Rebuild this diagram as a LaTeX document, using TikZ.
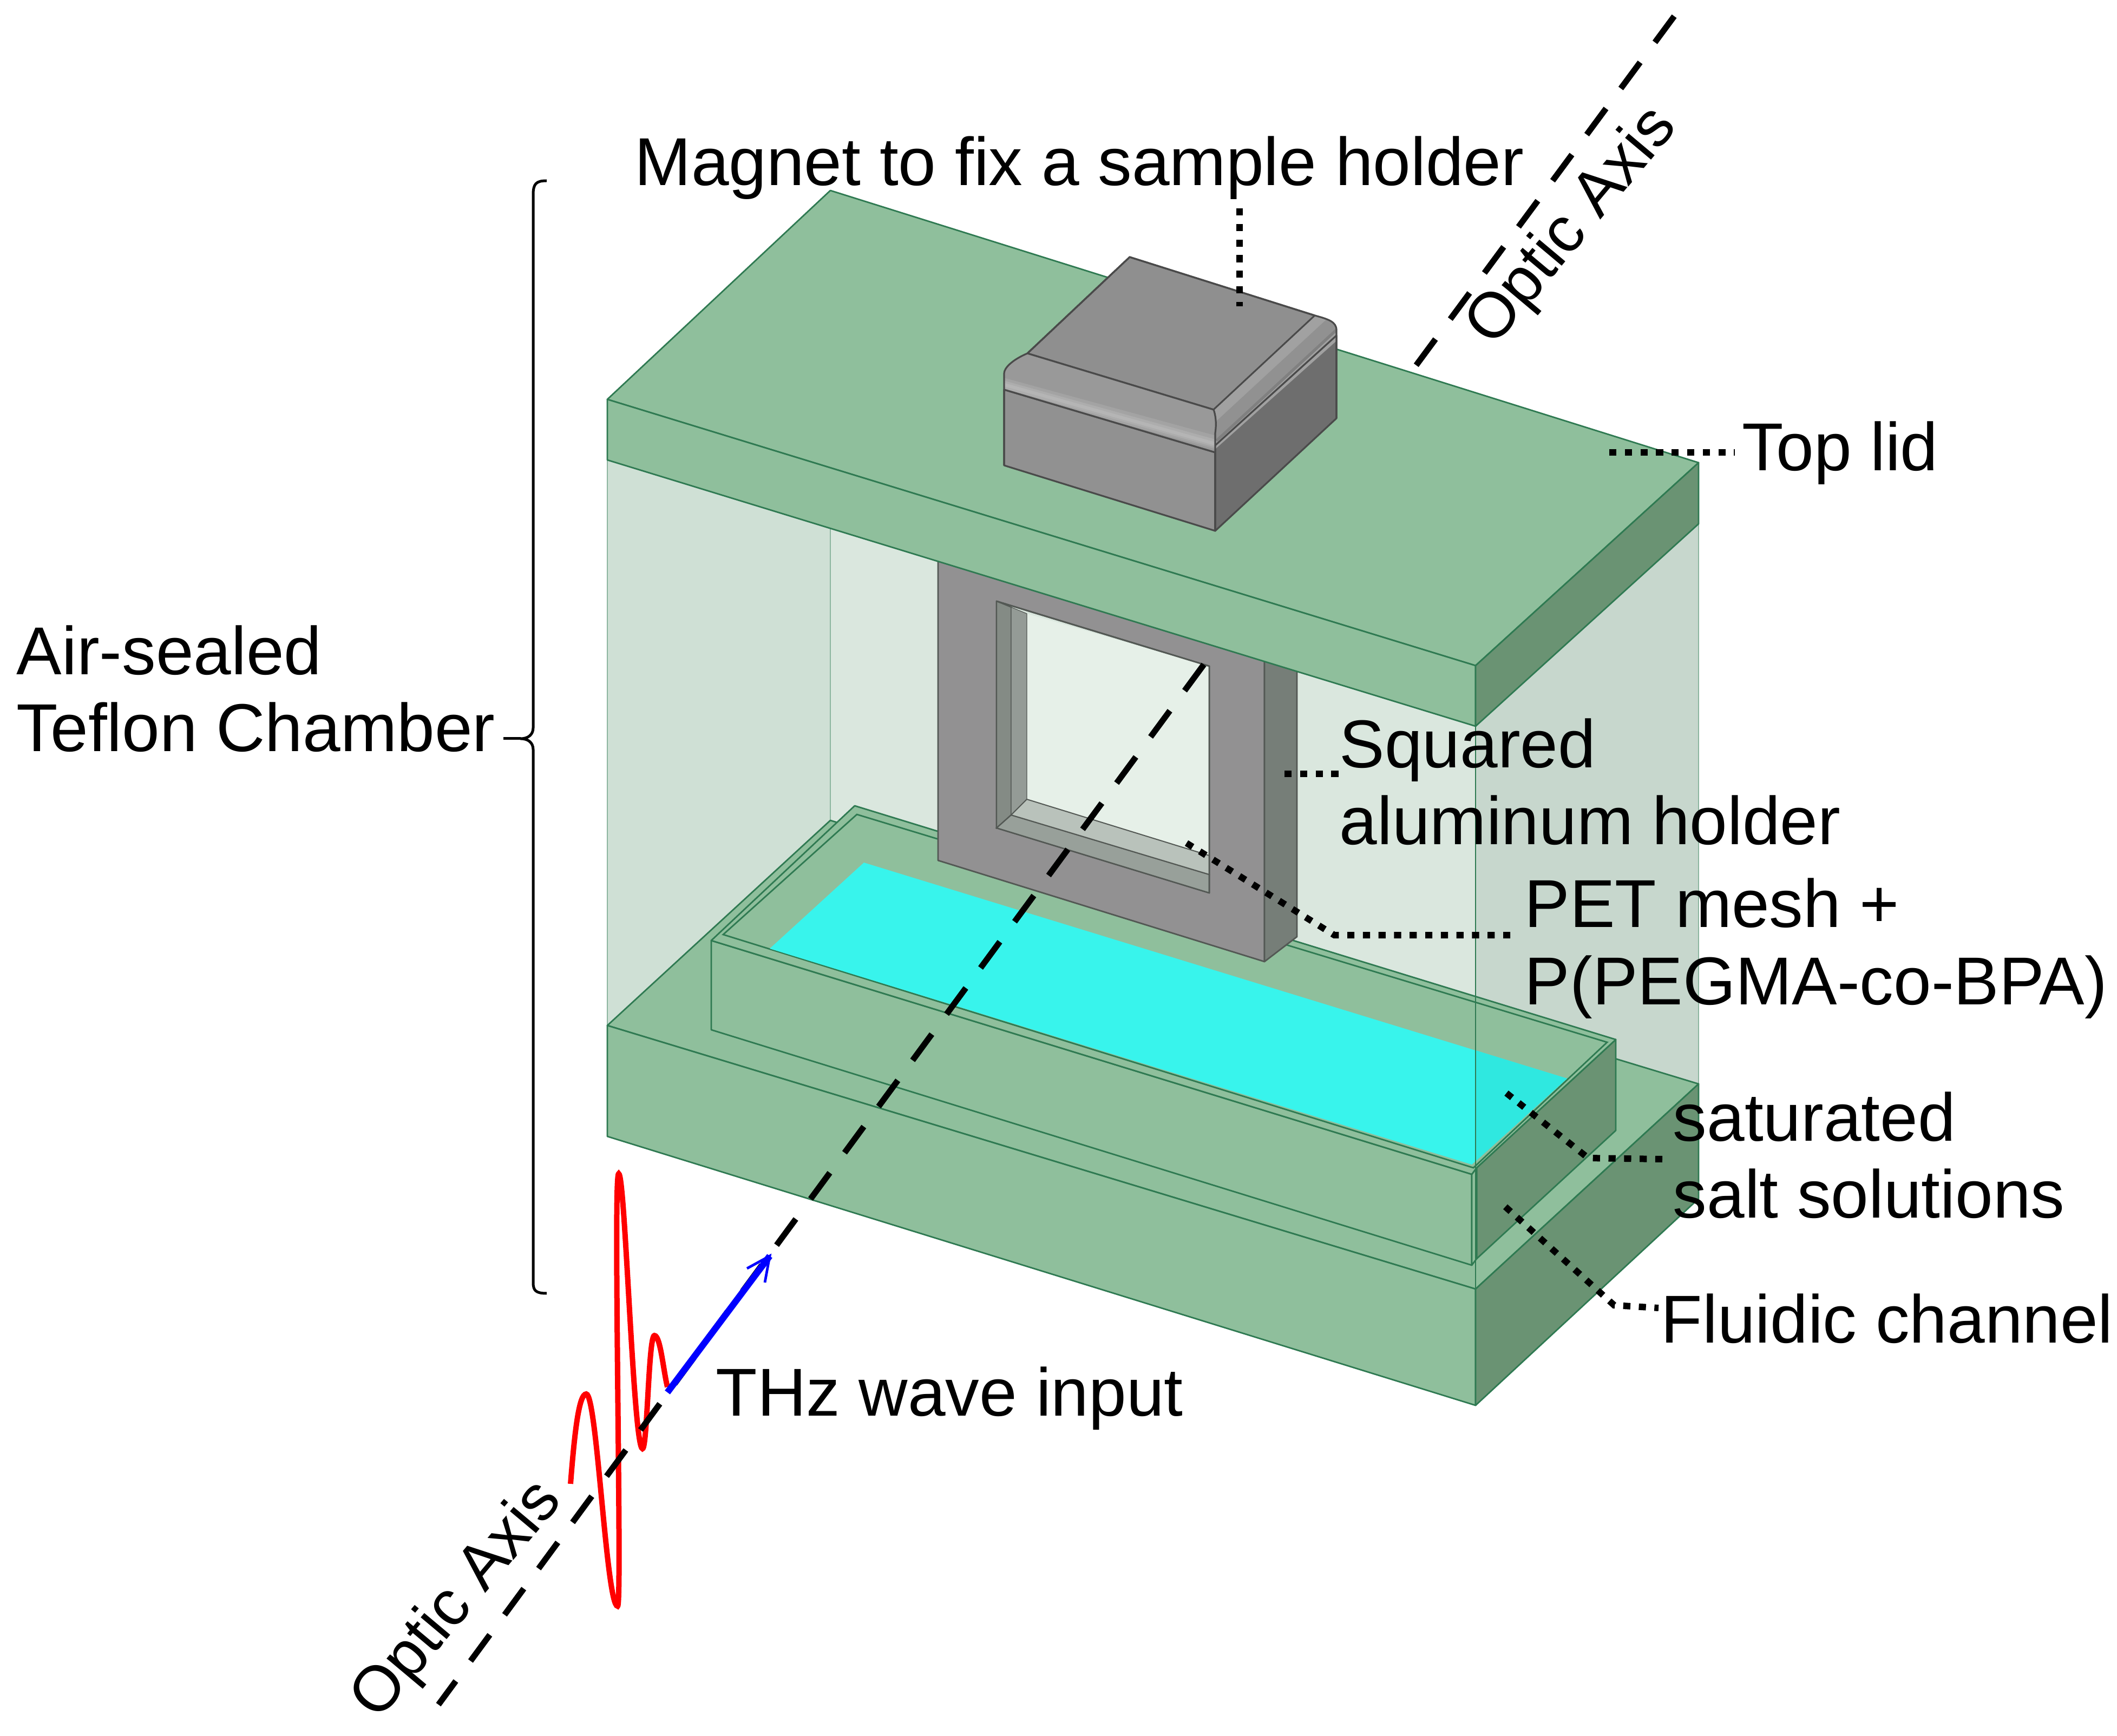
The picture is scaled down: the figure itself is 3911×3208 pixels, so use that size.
\documentclass[tikz,border=0pt]{standalone}
\usepackage{fontspec}
\setmainfont{Liberation Sans}
\usetikzlibrary{calc}
\definecolor{gface}{HTML}{8FBF9C}
\definecolor{gside}{HTML}{6A9373}
\definecolor{gedge}{HTML}{2F7A52}
\definecolor{wlight}{HTML}{DAE7DE}
\definecolor{wdark}{HTML}{CFE0D5}
\definecolor{wint}{HTML}{E6F0E8}
\definecolor{water}{HTML}{38F4EC}
\definecolor{waterd}{HTML}{2FE8E0}
\definecolor{alu}{HTML}{929192}
\definecolor{aluside}{HTML}{767E78}
\definecolor{magline}{HTML}{4A4A4A}
\tikzset{
  x=0.25pt,y=-0.25pt,
  face/.style={fill=gface,draw=gedge,line width=0.7pt,line join=round},
  sideface/.style={fill=gside,draw=gedge,line width=0.7pt,line join=round},
  edgeline/.style={draw=gedge,line width=0.7pt},
  wallline/.style={draw=gedge!55!white,line width=0.6pt},
  alufill/.style={fill=alu,draw=aluside!70!black,line width=0.7pt,line join=round},
  magfill/.style={draw=magline,line width=0.8pt,line join=round},
  leader/.style={draw=black,line width=3pt,dash pattern=on 3.3pt off 3.9pt},
  axisline/.style={draw=black,line width=2.75pt,dash pattern=on 15pt off 11.5pt},
  lbl/.style={inner sep=0pt,anchor=base west,align=left,font=\fontsize{31.3}{35.6}\selectfont,text=black},
  axlbl/.style={inner sep=0pt,anchor=center,rotate=50,font=\fontsize{29.6}{35.6}\selectfont,text=black}
}
\begin{document}
\begin{tikzpicture}
\useasboundingbox (0,0) rectangle (3911,3208);
% chamber walls
\fill[wlight] (1122,850) -- (2726,1342) -- (3138,968) -- (3138,2003) -- (2726,2382) -- (1122,1895) -- cycle;
\fill[wdark] (1122,850) -- (1534,976) -- (1534,1516) -- (1122,1895) -- cycle;
\fill[wdark!96!black] (2726,1342) -- (3138,968) -- (3138,2003) -- (2726,2382) -- cycle;
\draw[wallline] (1122,850) -- (1122,1895);
\draw[wallline] (1534,976) -- (1534,1516);
\draw[wallline] (3138,968) -- (3138,2003);
% base block
\path[face] (1122,1895) -- (1534,1516) -- (3138,2003) -- (2726,2382) -- cycle;
\path[face] (1122,1895) -- (2726,2382) -- (2726,2597) -- (1122,2100) -- cycle;
\path[sideface] (2726,2382) -- (3138,2003) -- (3138,2215) -- (2726,2597) -- cycle;
% tray
\path[sideface] (2728,2158) -- (2985,1921) -- (2985,2089) -- (2728,2326) -- cycle;
\path[face] (1314,1738) -- (2719,2170) -- (2719,2338) -- (1314,1903) -- cycle;
\path[face] (2719,2170) -- (2728,2158) -- (2728,2326) -- (2719,2338) -- cycle;
\path[face] (1314,1738) -- (1579,1489) -- (2985,1921) -- (2728,2158) -- (2719,2170) -- cycle;
\draw[edgeline] (1336,1727) -- (1583,1505) -- (2969,1926) -- (2722,2158) -- cycle;
% water
\fill[water] (1422,1753) -- (1596,1594) -- (2895,1993) -- (2719,2152) -- cycle;
\fill[waterd] (2726,1941) -- (2895,1993) -- (2726,2146) -- cycle;
% aluminium holder
\path[alufill,even odd rule] (1733,1000) -- (2336,1190) -- (2336,1777) -- (1733,1590) -- cycle
   (1841,1111) -- (2234,1231) -- (2234,1650) -- (1841,1530) -- cycle;
\path[fill=aluside,draw=aluside!70!black,line width=0.7pt,line join=round] (2336,1190) -- (2396,1200) -- (2396,1731) -- (2336,1777) -- cycle;
\fill[wint] (1897,1134) -- (2234,1231) -- (2234,1581) -- (1897,1477) -- cycle;
\path[fill=aluside!90!white,draw=aluside!70!black,line width=0.5pt] (1841,1111) -- (1868,1122) -- (1868,1506) -- (1841,1530) -- cycle;
\path[fill=black!30!wint!70!aluside,draw=aluside!70!black,line width=0.3pt] (1868,1122) -- (1897,1134) -- (1897,1477) -- (1868,1506) -- cycle;
\path[fill=aluside!70!wint,draw=aluside!70!black,line width=0.6pt] (1841,1530) -- (1868,1506) -- (2234,1616) -- (2234,1650) -- cycle;
\path[fill=aluside!40!wint,draw=aluside!70!black,line width=0.5pt] (1868,1506) -- (1897,1477) -- (2234,1581) -- (2234,1616) -- cycle;
\draw[aluside!70!black,line width=0.7pt] (1841,1111) -- (2234,1231) -- (2234,1650);
% top lid
\path[face] (1534,352) -- (3138,855) -- (2726,1230) -- (1122,738) -- cycle;
\path[face] (1122,738) -- (2726,1230) -- (2726,1342) -- (1122,850) -- cycle;
\path[sideface] (2726,1230) -- (3138,855) -- (3138,968) -- (2726,1342) -- cycle;
% magnet
\path[magfill,fill=black!44] (2087,475) -- (2429,583) -- (2242,757) -- (1898,653) -- cycle;
\path[magfill,fill=black!43] (1855,720) -- (2245,836) -- (2245,981) -- (1855,860) -- cycle;
\path[magfill,fill=black!57] (2245,823) -- (2469,620) -- (2469,773) -- (2245,981) -- cycle;
\begin{scope}
\clip (1898,653) .. controls (1870,665) and (1855,680) .. (1855,690) -- (1855,720) -- (2245,836) -- (2245,800) .. controls (2248,780) and (2245,765) .. (2242,757) -- cycle;
\fill[black!40] (1840,640) rectangle (2260,850);
\draw[black!36,line width=6pt] (1845,708) -- (2255,820);
\draw[black!32,line width=3.5pt] (1845,708) -- (2255,822);
\draw[black!29,line width=1.5pt] (1845,708) -- (2255,823);
\end{scope}
\begin{scope}
\clip (2429,583) .. controls (2455,590) and (2469,595) .. (2469,610) -- (2469,630) -- (2245,830) -- (2245,800) .. controls (2248,780) and (2245,765) .. (2242,757) -- cycle;
\fill[black!37] (2230,570) rectangle (2480,840);
\draw[black!50,line width=3pt] (2245,812) -- (2469,605);
\draw[black!43,line width=6pt] (2238,803) -- (2462,596);
\end{scope}
\draw[magline,line width=0.8pt,line join=round] (1855,860) -- (1855,690) .. controls (1855,680) and (1870,665) .. (1898,653) -- (2087,475) -- (2429,583) .. controls (2455,590) and (2469,595) .. (2469,610) -- (2469,773);
\draw[magline,line width=0.8pt] (1898,653) -- (2242,757) .. controls (2245,765) and (2248,780) .. (2245,800) -- (2245,981);
\draw[magline,line width=0.7pt] (2429,583) -- (2242,757);
\draw[magline,line width=0.8pt] (2245,823) -- (2469,620);
\draw[magline,line width=0.8pt] (1855,720) -- (2245,836);
% front wall edge
\draw[edgeline] (2726,1342) -- (2726,2382);
% bracket
\coordinate (brTop) at (1010,334);
\coordinate (brMid) at (962,1365);
\coordinate (brBot) at (1010,2390);
\draw[black,line width=1.25pt,line join=round] (brTop) .. controls (990,334) and (985,340) .. (985,360) -- (985,1345) .. controls (985,1358) and (975,1365) .. (brMid) .. controls (975,1365) and (985,1372) .. (985,1385) -- (985,2370) .. controls (985,2385) and (990,2390) .. (brBot);
\coordinate (brNub) at (930,1365);
\draw[black,line width=1.25pt] (brNub) -- (brMid);
% wave
\draw[red,line width=2.5pt] (1054,2742) .. controls (1062,2640) and (1070,2576) .. (1083,2576) .. controls (1103,2576) and (1120,2968) .. (1141,2968) .. controls (1150,2968) and (1132,2169) .. (1143,2169) .. controls (1155,2169) and (1170,2677) .. (1187,2677) .. controls (1196,2677) and (1198,2468) .. (1209,2468) .. controls (1220,2468) and (1225,2530) .. (1233,2563);
% optic axis
\coordinate (axA) at (3093,30);
\coordinate (axB) at (2614,678);
\coordinate (axC) at (2224,1228);
\coordinate (axD) at (810,3150);
\draw[axisline] (axA) -- (axB);
\draw[axisline] (axC) -- (axD);
% blue arrow
\coordinate (arS) at (1233,2573);
\coordinate (arT) at (1422,2321);
\coordinate (arL) at (1380,2344);
\coordinate (arR) at (1413,2370);
\draw[blue,line width=3pt] (arS) -- (arT);
\draw[blue,line width=1.2pt,line join=miter] (arL) -- (arT) -- (arR);
% leaders
\coordinate (l1a) at (2290,385); \coordinate (l1b) at (2290,566);
\coordinate (l2a) at (2973,836); \coordinate (l2b) at (3205,836);
\coordinate (l3a) at (2373,1430); \coordinate (l3b) at (2475,1430);
\coordinate (l4a) at (2192,1558); \coordinate (l4b) at (2465,1728); \coordinate (l4c) at (2793,1728);
\coordinate (l5a) at (2783,2020); \coordinate (l5b) at (2934,2140); \coordinate (l5c) at (3071,2142);
\coordinate (l6a) at (2781,2230); \coordinate (l6b) at (2982,2412); \coordinate (l6c) at (3064,2417);
\draw[leader] (l1a) -- (l1b);
\draw[leader] (l2a) -- (l2b);
\draw[leader] (l3a) -- (l3b);
\draw[leader] (l4a) -- (l4b) -- (l4c);
\draw[leader] (l5a) -- (l5b) -- (l5c);
\draw[leader] (l6a) -- (l6b) -- (l6c);
% labels
\node[lbl] (tmagnet) at (1172,343) {Magnet to fix a sample holder};
\node[lbl] (tlid) at (3218,870) {Top lid};
\node[lbl] (tsq) at (2474,1419) {Squared};
\node[lbl] (tal) at (2474,1561) {aluminum holder};
\node[lbl] (tpet) at (2816,1713) {PET mesh +};
\node[lbl] (tpeg) at (2816,1856) {P(PEGMA-co-BPA)};
\node[lbl] (tsat) at (3090,2108) {saturated};
\node[lbl] (tsalt) at (3090,2250) {salt solutions};
\node[lbl] (tfl) at (3068,2481) {Fluidic channel};
\node[lbl] (tair) at (30,1247) {Air-sealed};
\node[lbl] (tte) at (30,1389) {Teflon Chamber};
\node[lbl] (tthz) at (1322,2616) {THz wave input};
\node[axlbl] (tax1) at (2906,420) {Optic Axis};
\node[axlbl] (tax2) at (846,2958) {Optic Axis};
\end{tikzpicture}
\end{document}
